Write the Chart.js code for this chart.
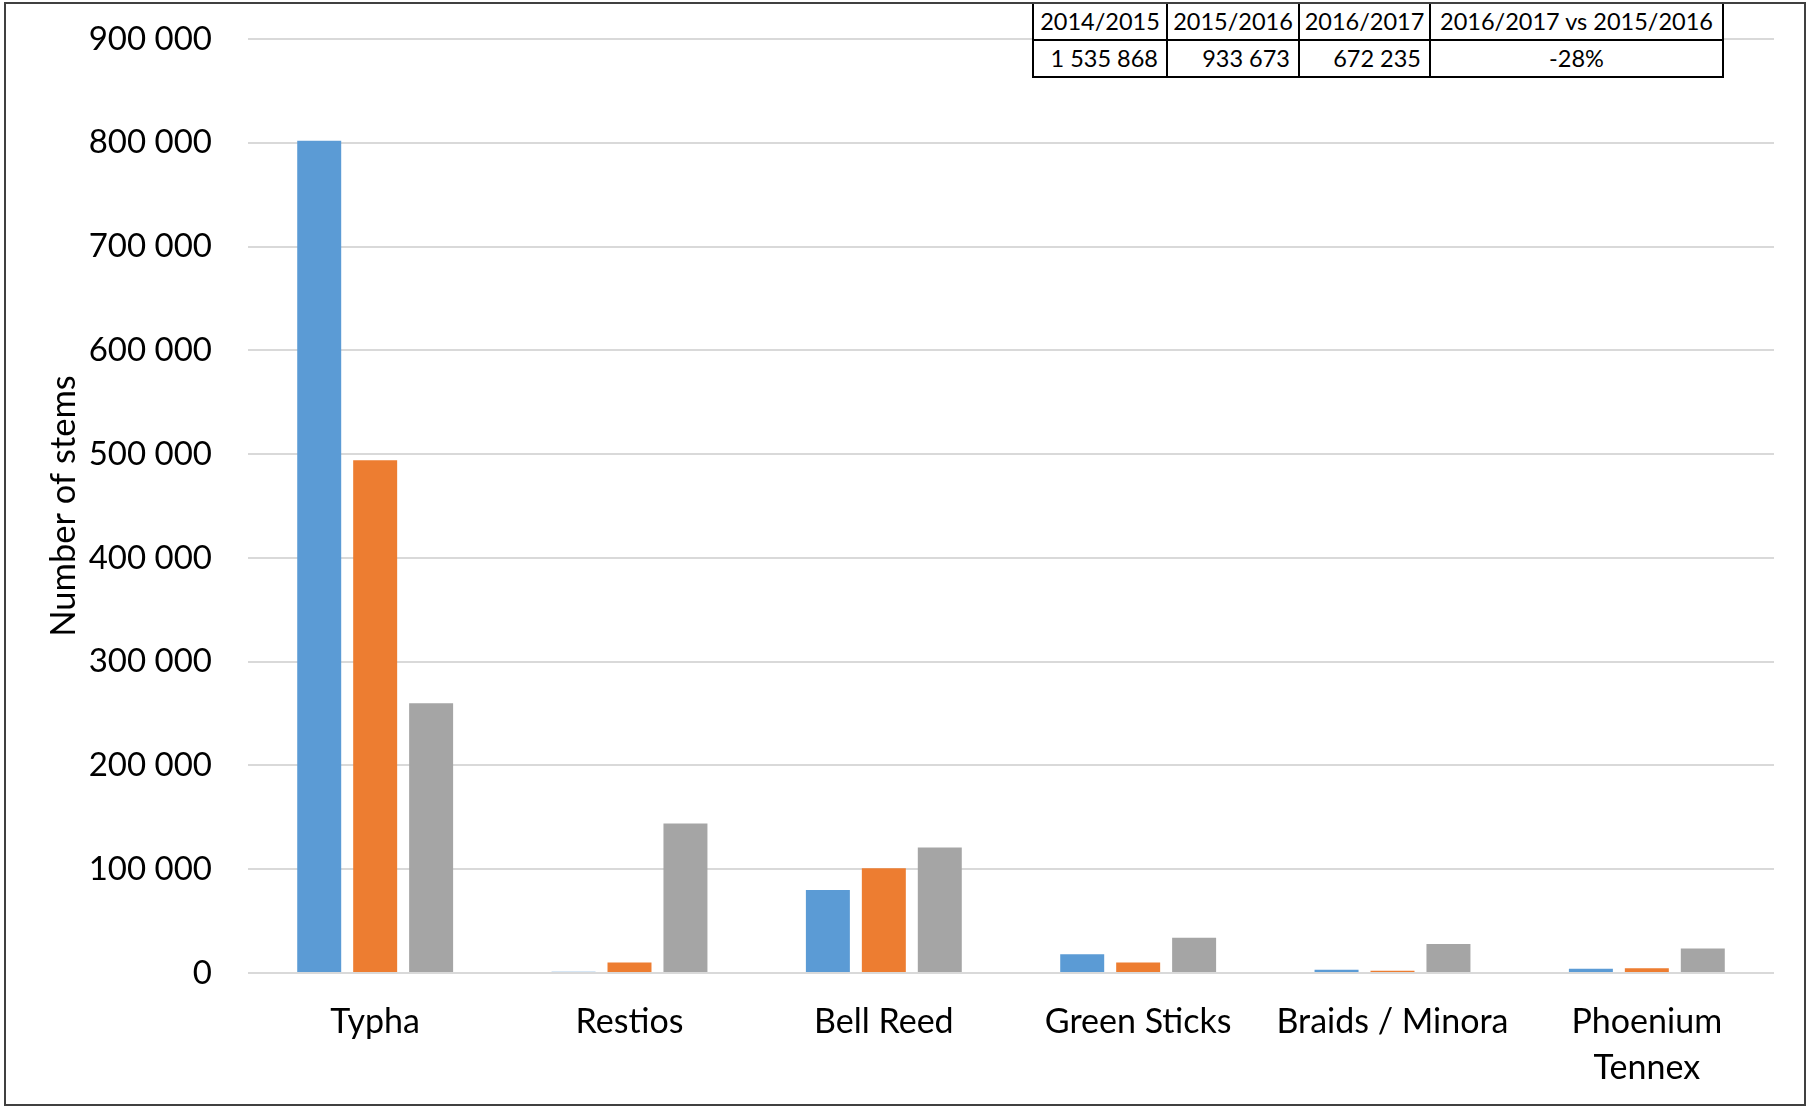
<!DOCTYPE html>
<html><head><meta charset="utf-8">
<script src="https://cdn.jsdelivr.net/npm/chart.js@4.4.1/dist/chart.umd.min.js"></script>
<style>
html,body{margin:0;padding:0;background:#fff;}
#wrap{position:relative;width:1806px;height:1106px;overflow:hidden;}
#frame{position:absolute;left:4px;top:2px;width:1802px;height:1104px;border:2px solid #404040;box-sizing:border-box;pointer-events:none;}
#tbl{position:absolute;left:1032px;top:2px;width:690px;border-collapse:collapse;background:#fff;font-family:Lato,sans-serif;font-size:23.5px;color:#000;table-layout:fixed;}
#tbl td{border:2px solid #000;height:35px;padding:0 8px;white-space:nowrap;line-height:35px;overflow:hidden;}
#tbl tr.h td{text-align:center;padding:0 1px;}
#tbl tr.v td{text-align:right;}
#tbl tr.v td.c{text-align:center;}
</style>
</head><body>
<div id="wrap">
<canvas id="c" width="1806" height="1106"></canvas>
<table id="tbl"><colgroup><col style="width:134px"><col style="width:132px"><col style="width:131px"><col style="width:293px"></colgroup>
<tbody><tr class="h" id="hrow"></tr><tr class="v" id="vrow"></tr></tbody></table>
<div id="frame"></div>
</div>
<script>
const categories = ['Typha', 'Restios', 'Bell Reed', 'Green Sticks', 'Braids / Minora', ['Phoenium', 'Tennex']];
const seasons = ['2014/2015', '2015/2016', '2016/2017'];
const values2014 = [802000, 1300, 80000, 18000, 3200, 4200];
const values2015 = [494000, 10200, 101000, 10200, 2200, 4500];
const values2016 = [260000, 144000, 121000, 34000, 28000, 23500];
const tableHeaders = ['2014/2015', '2015/2016', '2016/2017', '2016/2017 vs 2015/2016'];
const tableValues = ['1 535 868', '933 673', '672 235', '-28%'];
const yTickMax = 900000;
const yTickStep = 100000;
const colors = ['#5B9BD5', '#ED7D31', '#A5A5A5'];

// table
const hrow = document.getElementById('hrow');
const vrow = document.getElementById('vrow');
tableHeaders.forEach(h => { const td = document.createElement('td'); td.textContent = h; hrow.appendChild(td); });
tableValues.forEach((v, i) => { const td = document.createElement('td'); td.textContent = v; if (i === tableValues.length - 1) td.className = 'c'; vrow.appendChild(td); });

const fmt = v => String(v).replace(/\B(?=(\d{3})+(?!\d))/g, ' ');
const FONT = 'Lato';

new Chart(document.getElementById('c'), {
  type: 'bar',
  data: {
    labels: categories,
    datasets: [values2014, values2015, values2016].map((d, i) => ({
      label: seasons[i], data: d, backgroundColor: colors[i], borderWidth: 0,
      categoryPercentage: 0.66, barPercentage: 0.786
    }))
  },
  options: {
    responsive: false, animation: false,
    layout: { padding: { top: 39, right: 32, left: 0, bottom: 0 } },
    plugins: { legend: { display: false }, tooltip: { enabled: false } },
    scales: {
      x: {
        grid: { display: false, drawTicks: false },
        border: { display: false },
        ticks: { color: '#000', font: { family: FONT, size: 34, lineHeight: 1.36 }, padding: 26, maxRotation: 0, autoSkip: false },
        afterFit: s => { s.height = 133; s.paddingLeft = 0; s.paddingRight = 0; }
      },
      y: {
        min: 0, max: yTickMax,
        grid: { color: '#d9d9d9', lineWidth: 2, drawTicks: false },
        border: { display: false },
        ticks: { stepSize: yTickStep, color: '#000', font: { family: FONT, size: 33 }, padding: 36, callback: v => fmt(v) },
        title: { display: true, text: 'Number of stems', color: '#000', font: { family: FONT, size: 34.5 }, padding: { top: 43, bottom: 0 } },
        afterFit: s => { s.width = 248; s.paddingTop = 0; s.paddingBottom = 0; }
      }
    }
  }
});
</script>
</body></html>
